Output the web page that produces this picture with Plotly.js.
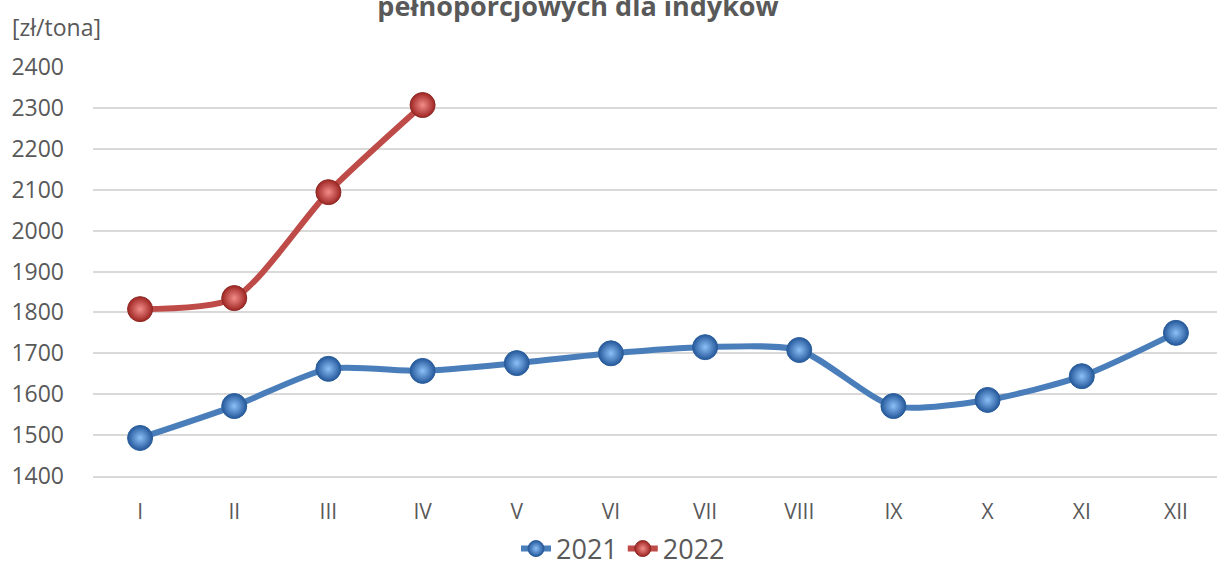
<!DOCTYPE html>
<html>
<head>
<meta charset="utf-8">
<script src="https://cdn.plot.ly/plotly-3.0.1.min.js"></script>
<style>
html, body { margin: 0; padding: 0; overflow: hidden; background: #fff; }
#chart { width: 1217px; height: 566px; }
</style>
</head>
<body>
<div id="chart"></div>
<script>
const months = ["I", "II", "III", "IV", "V", "VI", "VII", "VIII", "IX", "X", "XI", "XII"];
const values2021 = [1493, 1571, 1662, 1657, 1676, 1700, 1715, 1708, 1571, 1586, 1644, 1750];
const months2022 = ["I", "II", "III", "IV"];
const values2022 = [1808, 1835, 2094, 2307];
const yTicks = [1400, 1500, 1600, 1700, 1800, 1900, 2000, 2100, 2200, 2300, 2400];
const titleText = "pełnoporcjowych dla indyków";
const unitLabel = "[zł/tona]";

const FONT = "Open Sans, Liberation Sans, sans-serif";
const GREY = "#595959";

const traces = [
  {
    x: months, y: values2021, name: "2021", type: "scatter", mode: "lines+markers",
    line: { color: "#4A7EBB", width: 6, shape: "spline", smoothing: 0.7 },
    marker: { size: 25, color: "#24579A", gradient: { type: "radial", color: "#8CC0F7" },
              line: { color: "#2B5E99", width: 1 } }
  },
  {
    x: months2022, y: values2022, name: "2022", type: "scatter", mode: "lines+markers",
    line: { color: "#BE4B48", width: 6, shape: "spline", smoothing: 0.7 },
    marker: { size: 25, color: "#9E2522", gradient: { type: "radial", color: "#F28D89" },
              line: { color: "#8C2A27", width: 1 } }
  }
];

const layout = {
  width: 1217, height: 566,
  margin: { l: 93, r: 0, t: 67, b: 90, autoexpand: false },
  paper_bgcolor: "#fff", plot_bgcolor: "#fff",
  font: { family: FONT, color: GREY, size: 21 },
  title: { text: titleText, font: { family: FONT, size: 27, color: GREY, weight: "bold" },
           x: 578 / 1217, xref: "container", xanchor: "center",
           y: 1 - 7 / 566, yref: "container", yanchor: "middle" },
  xaxis: {
    type: "category", categoryarray: months, range: [-0.5, 11.436],
    showgrid: false, zeroline: false, showline: true, linecolor: "#D9D9D9", linewidth: 2,
    ticks: "", ticklabelstandoff: 16, tickfont: { size: 21, color: GREY, family: FONT },
    fixedrange: true
  },
  yaxis: {
    range: [1400, 2400], tickvals: yTicks, ticktext: yTicks.map(String),
    showgrid: true, gridcolor: "#D9D9D9", gridwidth: 2, zeroline: false, showline: false,
    ticks: "", ticklabelstandoff: 28, tickfont: { size: 23, color: GREY, family: FONT },
    fixedrange: true
  },
  showlegend: true,
  legend: { orientation: "h", x: (623 - 93) / 1124, xanchor: "center",
            y: 1 - 549 / 566, yref: "container", yanchor: "middle",
            font: { size: 27, color: GREY, family: FONT } },
  annotations: [
    { text: unitLabel, xref: "paper", yref: "paper", x: -83 / 1124, y: (476 - 27) / 409,
      xanchor: "left", yanchor: "middle", showarrow: false,
      font: { size: 23, color: GREY, family: FONT } }
  ]
};

Plotly.newPlot("chart", traces, layout, { displayModeBar: false, staticPlot: true });
</script>
</body>
</html>
